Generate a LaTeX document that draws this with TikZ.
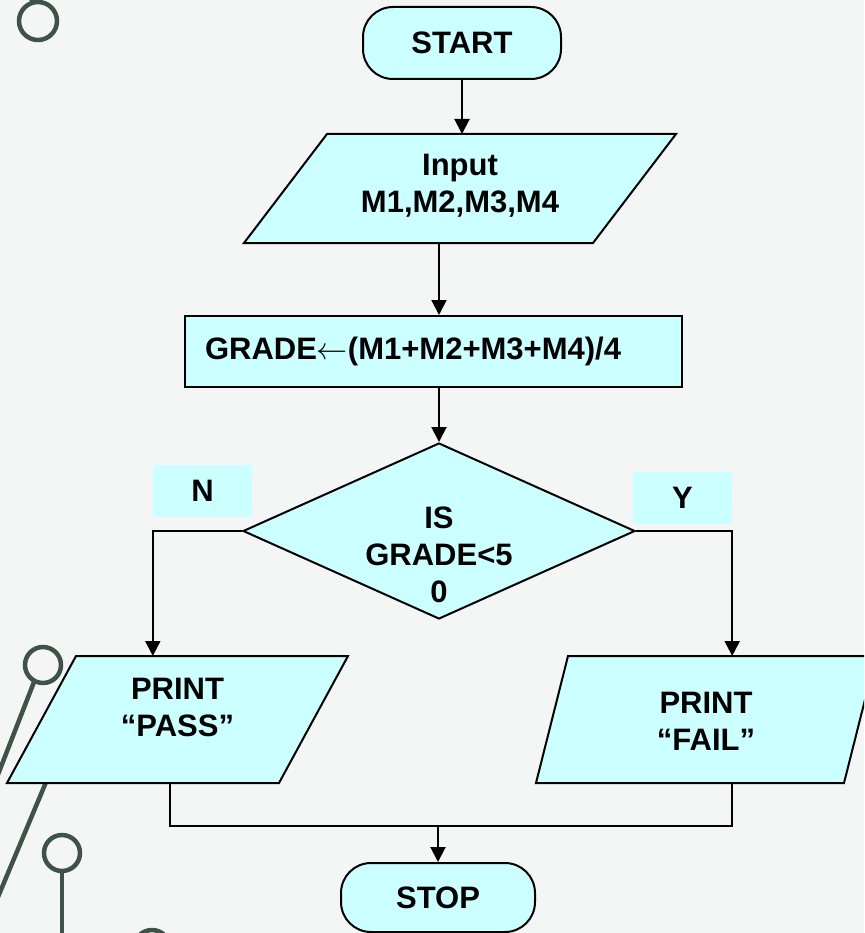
\RequirePackage{fix-cm}
\documentclass[tikz,border=0pt]{standalone}
\usepackage{fontspec}
\setmainfont{Liberation Sans}
\usetikzlibrary{shapes.geometric, arrows.meta, positioning}

\definecolor{boxcyan}{RGB}{204,255,255}
\definecolor{slidebg}{RGB}{244,246,245}
\definecolor{decogreen}{RGB}{62,82,72}

\newcommand{\chartfont}{\fontsize{31}{37}\selectfont\bfseries}
% slanted frame round an io node: #1 node name, #2 half of the slant
\newcommand{\ioframe}[2]{%
  \filldraw[ioshape] ([xshift=-#2]#1.south west) -- ([xshift=-#2]#1.south east)
    -- ([xshift=#2]#1.north east) -- ([xshift=#2]#1.north west) -- cycle;}

\begin{document}
\begin{tikzpicture}[
    x=1pt, y=-1pt,
    terminal/.style={rectangle, draw=black, line width=2pt, fill=boxcyan, rounded corners=30pt, minimum width=198pt, minimum height=72pt, font=\chartfont},
    io/.style={rectangle, inner sep=0pt, outer sep=1pt},
    ioshape/.style={draw=black, fill=boxcyan, line width=2pt, line join=miter},
    process/.style={rectangle, draw=black, line width=2pt, fill=boxcyan, minimum width=497pt, minimum height=71pt, inner xsep=20pt, text width=457pt, align=left, font=\chartfont},
    decision/.style={diamond, draw=black, line width=2pt, fill=boxcyan, inner sep=0pt, minimum width=392pt, minimum height=176pt},
    branchtag/.style={rectangle, fill=boxcyan, minimum width=99pt, minimum height=52pt, font=\chartfont},
    txt/.style={align=center, font=\chartfont, inner sep=0pt},
    arrow/.style={-{Triangle[length=15pt, width=15pt]}, line width=2pt},
    flowline/.style={line width=2pt},
    deco/.style={draw=decogreen, line width=4.5pt}
]

% slide background
\fill[slidebg] (0,0) rectangle (864,933);
\useasboundingbox (0,0) rectangle (864,933);
\clip (0,0) rectangle (864,933);

% template ornaments
\draw[deco] (38,21) circle (19pt);
\draw[deco] (33,2) -- (26,-10);
\draw[deco] (43,665) circle (18pt);
\draw[deco] (34,682) -- (-10,795);
\draw[deco] (72,720) -- (-20,940);
\draw[deco] (62,853) circle (18pt);
\draw[deco] (62,871) -- (62,940);
\draw[deco] (152,948) circle (18pt);

% main chain
\node[terminal] (start) at (462,43) {START};
\node[io, minimum width=347pt, minimum height=107pt, below=54pt of start, xshift=-2pt] (input) {};
\ioframe{input}{41.5pt}
\node[txt] (inputtext) at ([yshift=3pt]input.center) {Input\\M1,M2,M3,M4};
\node[process, below=72pt of input, xshift=-26.5pt] (grade) {GRADE$\leftarrow$(M1+M2+M3+M4)/4};
\node[decision, below=54pt of grade, xshift=5.5pt] (decide) {};
\node[txt] (decidetext) at ([yshift=-24pt]decide.center) {IS\\GRADE<5\\0};

% branch labels
\node[branchtag] (nlabel) at (202.5,491) {N};
\node[branchtag] (ylabel) at (682.5,497.5) {Y};

% outputs
\node[io, minimum width=270pt, minimum height=125pt, below=36pt of decide, xshift=-261.5pt] (pass) {};
\ioframe{pass}{34.5pt}
\node[txt] (passtext) at ([yshift=12pt]pass.center) {PRINT\\“PASS”};
\node[io, minimum width=306pt, minimum height=125pt, below=36pt of decide, xshift=267pt] (fail) {};
\ioframe{fail}{16pt}
\node[txt] (failtext) at ([yshift=-2pt]fail.center) {PRINT\\“FAIL”};

\node[terminal, minimum width=194pt, minimum height=69pt] (stop) at (438,897.5) {STOP};

% connectors
\draw[arrow] (start.south) -- (start.south |- input.north);
\draw[arrow] (input.south -| decide.north) -- (grade.north -| decide.north);
\draw[arrow] (grade.south -| decide.north) -- (decide.north);
\draw[arrow] (decide.west) -| (nlabel.west |- pass.north);
\draw[arrow] (decide.east) -| (ylabel.east |- fail.north);
\coordinate[above=36pt of stop.north] (merge);
\draw[flowline] ([xshift=-8pt]pass.south) |- (merge) -| (ylabel.east |- fail.south);
\draw[arrow] (merge) -- (stop.north);

\end{tikzpicture}
\end{document}
